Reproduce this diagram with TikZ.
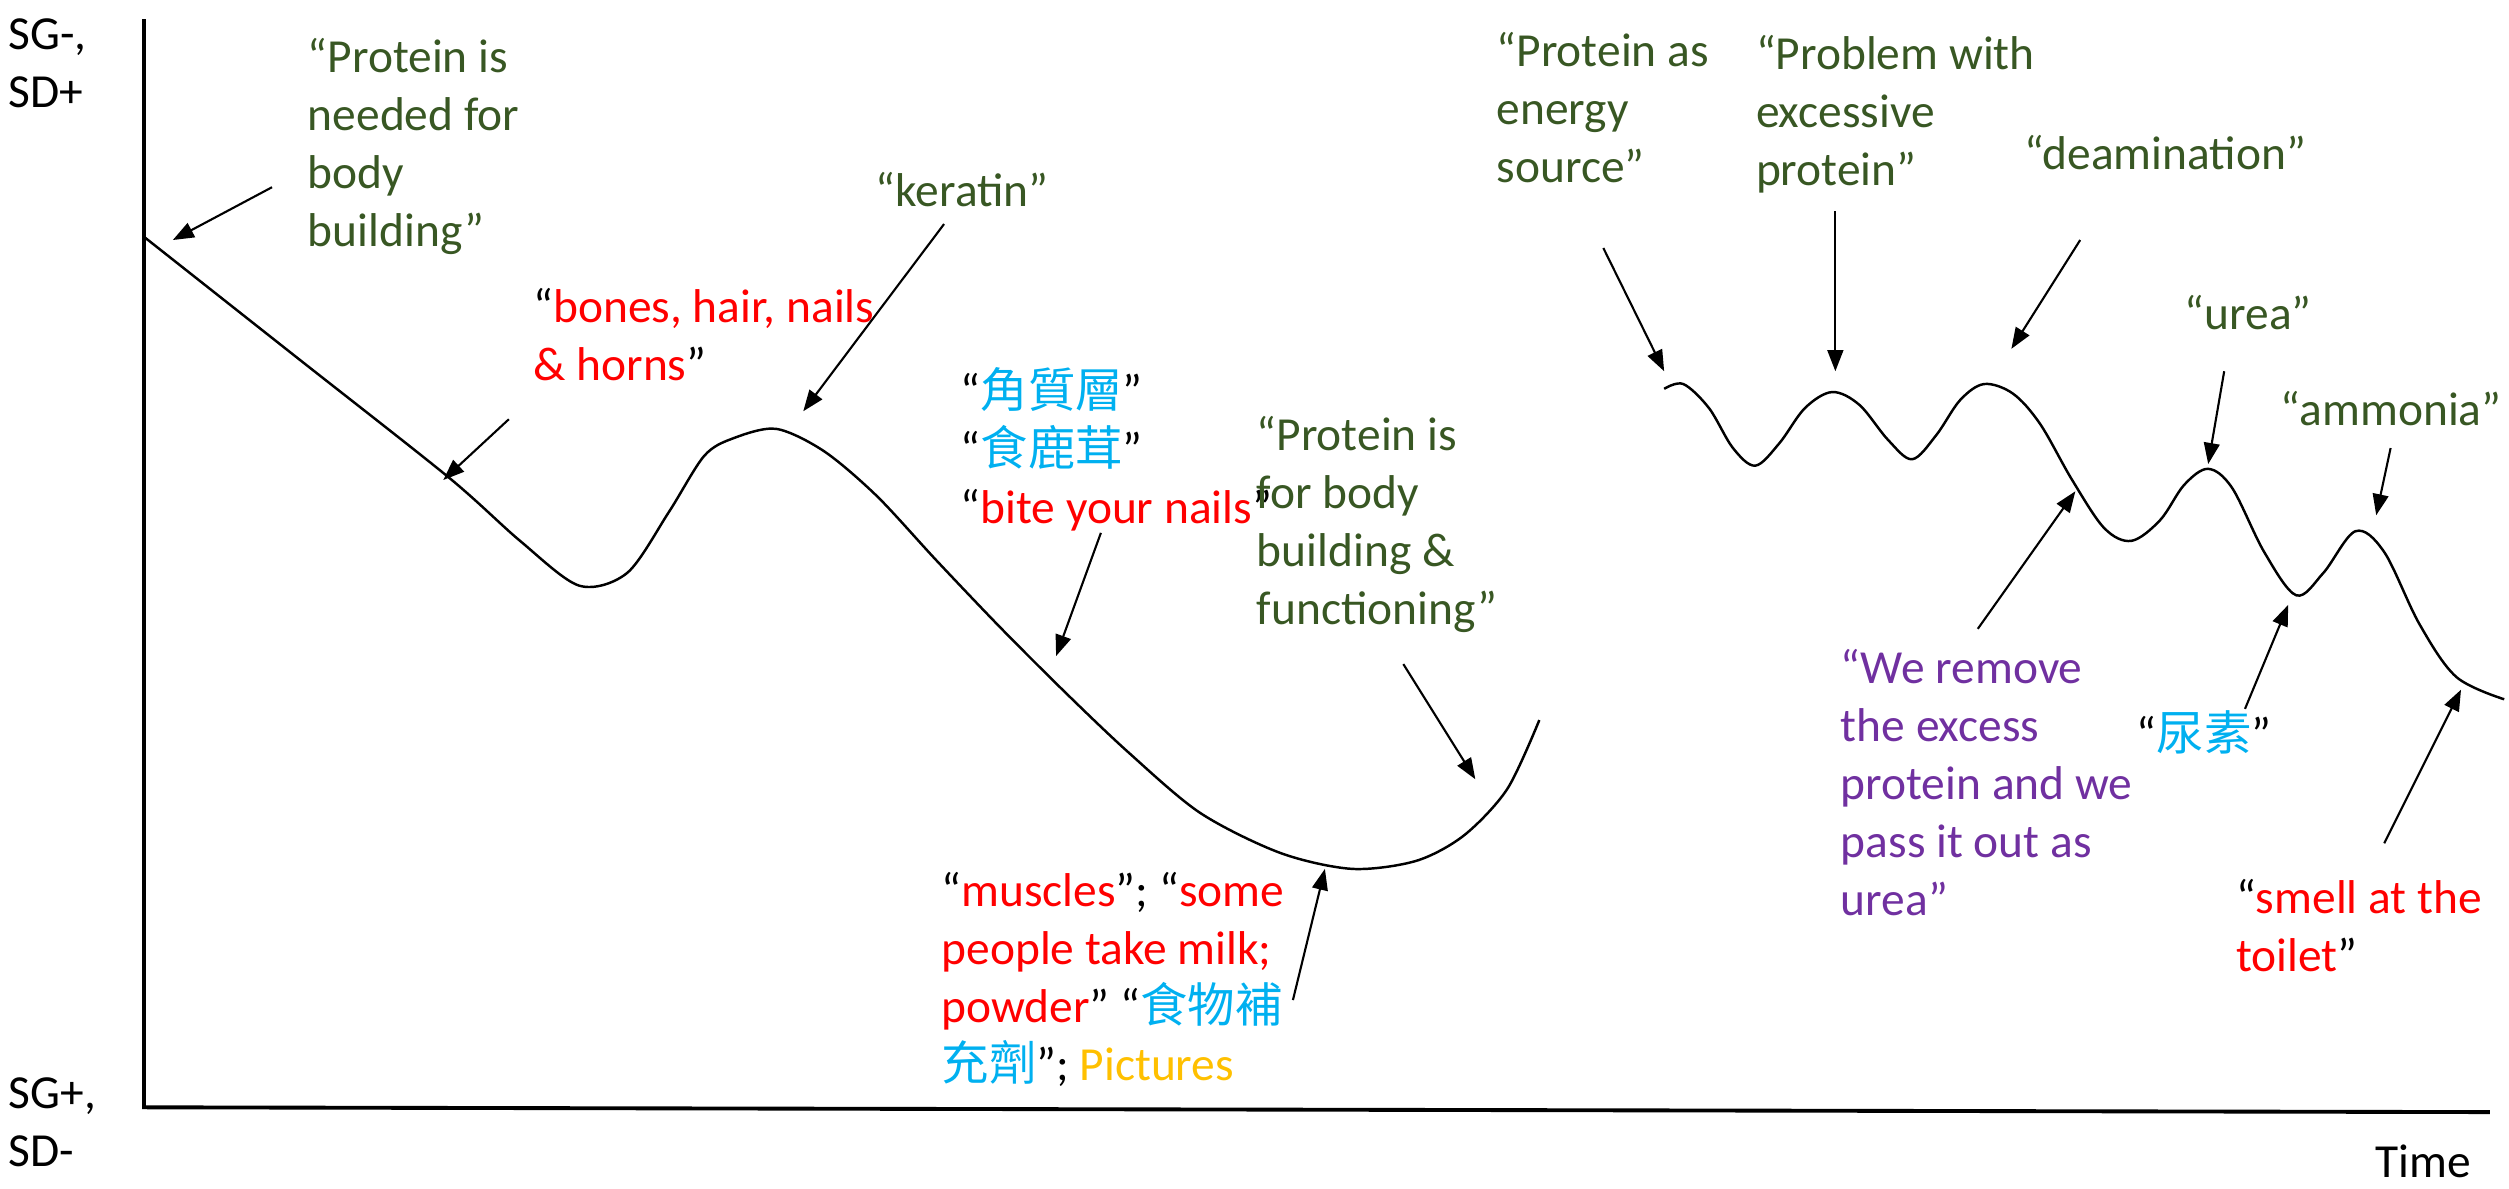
\documentclass[tikz,border=0pt]{standalone}
\usepackage{fontspec}
\setmainfont{Carlito}
\newfontfamily\cjk{Noto Sans CJK TC}
\usetikzlibrary{arrows.meta}
\definecolor{grn}{HTML}{385723}
\definecolor{rd}{HTML}{FF0000}
\definecolor{blu}{HTML}{00B0F0}
\definecolor{prp}{HTML}{7030A0}
\definecolor{ylw}{HTML}{FFC000}

\begin{document}
\begin{tikzpicture}[x=0.016cm,y=-0.016cm,
        note/.style={anchor=base west,inner sep=0pt,align=left,font=\fontsize{13.5}{16.5}\selectfont},
        pointer/.style={-{Triangle[length=6pt,width=4.5pt]},line width=0.6pt}]
        \useasboundingbox (0,0) rectangle (1568,743);

        \draw[line width=1.1pt] (90,12) -- (90,692) -- (1556,695);

        \node[note] (sgtop) at (5,67) {SG-,\\SD+};
        \node[note] (sgbot) at (5,729) {SG+,\\SD-};
        \node[note] (time) at (1484,736) {Time};

        \draw[line width=0.7pt] plot[smooth,tension=0.5] coordinates {(90,148) (185,223) (280,298) (325,338) (362,366) (392,358) (418,320) (440,285) (458,274) (485,268) (515,282) (548,310) (585,350) (625,392) (665,432) (705,470) (750,508) (800,533) (845,543) (885,538) (915,522) (942,493) (962,450)};
        \draw[line width=0.7pt] plot[smooth,tension=0.55] coordinates {(1040,243) (1052,240) (1068,255) (1083,280) (1097,291) (1112,277) (1128,255) (1145,245) (1162,253) (1180,275) (1195,287) (1210,272) (1225,250) (1240,240) (1258,246) (1275,265) (1295,300) (1315,330) (1332,338) (1350,325) (1365,303) (1380,293) (1395,305) (1415,345) (1435,372) (1452,358) (1472,332) (1490,345) (1512,390) (1535,423) (1565,437)};

        \node[note,text=grn] (build) at (192,154) {“Protein is\\needed for\\body\\building”};
        \node[note] (bones) at (333,238) {“\textcolor{rd}{bones, hair, nails}\\\textcolor{rd}{\& horns}”};
        \node[note,text=grn] (keratin) at (547,129) {“keratin”};
        \node[note] (nails) at (600,327) {“\textcolor{blu}{\cjk 角質層}”\\“\textcolor{blu}{\cjk 食鹿茸}”\\“\textcolor{rd}{bite your nails}”};
        \node[note,text=grn] (func) at (785,390) {“Protein is\\for body\\building \&\\functioning”};
        \node[note] (muscle) at (588,675) {“\textcolor{rd}{muscles}”; “\textcolor{rd}{some}\\\textcolor{rd}{people take milk;}\\\textcolor{rd}{powder}” “\textcolor{blu}{\cjk 食物補}\\\textcolor{blu}{\cjk 充劑}”; \textcolor{ylw}{Pictures}};
        \node[note,text=grn] (energy) at (935,114) {“Protein as\\energy\\source”};
        \node[note,text=grn] (excess) at (1097,116) {“Problem with\\excessive\\protein”};
        \node[note,text=grn] (deam) at (1265,106) {“deamination”};
        \node[note,text=grn] (urea) at (1365,206) {“urea”};
        \node[note,text=grn] (ammonia) at (1425,266) {“ammonia”};
        \node[note,text=prp] (remove) at (1150,572) {“We remove\\the excess\\protein and we\\pass it out as\\urea”};
        \node[note] (niao) at (1335,469) {“\textcolor{blu}{\cjk 尿素}”};
        \node[note] (smell) at (1397,607) {“\textcolor{rd}{smell at the}\\\textcolor{rd}{toilet}”};

        \foreach \n/\tx/\ty/\hx/\hy in {1/170/117/108/150, 2/318/262/277/300, 3/590/140/502/257,
                4/688/333/660/410, 5/877/415/922/487, 6/808/625/828/543, 7/1002/155/1040/232,
                8/1147/132/1147/232, 9/1300/150/1257/218, 10/1390/232/1380/290, 11/1494/280/1485/322,
                12/1236/393/1297/307, 13/1403/443/1430/378, 14/1490/527/1538/431}{
            \coordinate (t\n) at (\tx,\ty);
            \coordinate (h\n) at (\hx,\hy);
            \draw[pointer] (t\n) -- (h\n);
        }
    \end{tikzpicture}
\end{document}
